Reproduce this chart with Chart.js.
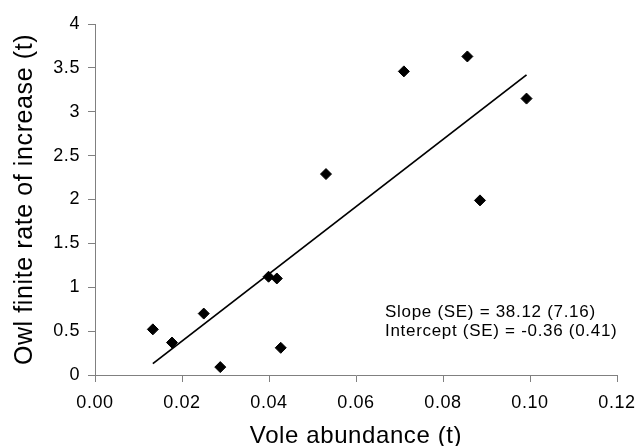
<!DOCTYPE html>
<html><head><meta charset="utf-8">
<script src="https://cdn.jsdelivr.net/npm/chart.js@4/dist/chart.umd.min.js"></script>
<style>html,body{margin:0;padding:0;background:#fff;}#wrap{width:636px;height:446px;position:relative;}</style>
</head><body><div id="wrap"><canvas id="c" width="636" height="446"></canvas></div>
<script>
const voleAbundance = [0.0133, 0.0177, 0.0250, 0.0288, 0.0399, 0.0418, 0.0427, 0.0531, 0.0710, 0.0856, 0.0885, 0.0992];
const owlRate       = [0.52,   0.37,   0.70,   0.09,   1.12,   1.10,   0.31,   2.29,   3.46,   3.63,   1.99,   3.15];
const trendX = [0.0133, 0.0992];
const trendY = [0.13, 3.42];
const xTickValues = [0, 0.02, 0.04, 0.06, 0.08, 0.10, 0.12];
const xTickLabels = ['0.00', '0.02', '0.04', '0.06', '0.08', '0.10', '0.12'];
const yTickValues = [0, 0.5, 1, 1.5, 2, 2.5, 3, 3.5, 4];
const yTickLabels = ['0', '0.5', '1', '1.5', '2', '2.5', '3', '3.5', '4'];
const statLines = ['Slope (SE) = 38.12 (7.16)', 'Intercept (SE) = -0.36 (0.41)'];
const xTitle = 'Vole abundance (t)';
const yTitle = 'Owl finite rate of increase (t)';

const FONT = "'Liberation Sans', Arial, sans-serif";
const points = voleAbundance.map((x, i) => ({x: x, y: owlRate[i]}));
const trend = trendX.map((x, i) => ({x: x, y: trendY[i]}));

const textPlugin = {
  id: 'textPlugin',
  beforeUpdate(chart) { chart.ctx.letterSpacing = '0.6px'; },
  beforeDraw(chart) { chart.ctx.letterSpacing = '0.6px'; },
  afterDraw(chart) {
    const ctx = chart.ctx;
    ctx.save();
    ctx.letterSpacing = '0.7px';
    ctx.font = '17px ' + FONT;
    ctx.fillStyle = '#000';
    ctx.textAlign = 'left';
    ctx.textBaseline = 'alphabetic';
    ctx.fillText(statLines[0], 385, 317);
    ctx.fillText(statLines[1], 385, 335.5);
    ctx.restore();
  }
};

new Chart(document.getElementById('c'), {
  type: 'scatter',
  data: {
    datasets: [
      {
        type: 'line',
        data: trend,
        borderColor: '#000',
        borderWidth: 1.8,
        pointRadius: 0,
        fill: false,
        tension: 0
      },
      {
        data: points,
        pointStyle: 'rectRot',
        pointRadius: 5.5,
        pointHoverRadius: 5.5,
        backgroundColor: '#000',
        borderColor: '#000',
        borderWidth: 1
      }
    ]
  },
  options: {
    responsive: false,
    animation: false,
    devicePixelRatio: 1,
    layout: {padding: {top: 24, right: 19, bottom: 0, left: 0}},
    plugins: {legend: {display: false}, tooltip: {enabled: false}},
    scales: {
      x: {
        type: 'linear',
        min: 0, max: 0.12,
        afterBuildTicks(s) { s.ticks = xTickValues.map(v => ({value: v})); },
        afterFit(s) { s.height = 71; s.paddingLeft = 0; s.paddingRight = 0; },
        grid: {drawOnChartArea: false, drawTicks: true, tickLength: 7, color: '#808080', tickColor: '#808080'},
        border: {display: true, color: '#808080', width: 1},
        ticks: {
          color: '#000', font: {family: FONT, size: 18}, padding: 10, maxRotation: 0, autoSkip: false,
          callback(v, i) { return xTickLabels[i]; }
        },
        title: {display: true, text: xTitle, color: '#000', font: {family: FONT, size: 24, lineHeight: 1}, padding: {top: 0, bottom: -2}}
      },
      y: {
        type: 'linear',
        min: 0, max: 4,
        afterBuildTicks(s) { s.ticks = yTickValues.map(v => ({value: v})); },
        afterFit(s) { s.width = 95; s.paddingTop = 0; s.paddingBottom = 0; },
        grid: {drawOnChartArea: false, drawTicks: true, tickLength: 7, color: '#808080', tickColor: '#808080'},
        border: {display: true, color: '#808080', width: 1},
        ticks: {
          color: '#000', font: {family: FONT, size: 18}, padding: 8, autoSkip: false,
          callback(v, i) { return yTickLabels[i]; }
        },
        title: {display: true, text: yTitle, color: '#000', font: {family: FONT, size: 25, lineHeight: 1}, padding: {top: 13, bottom: 0}}
      }
    }
  },
  plugins: [textPlugin]
});
</script>
</body></html>
